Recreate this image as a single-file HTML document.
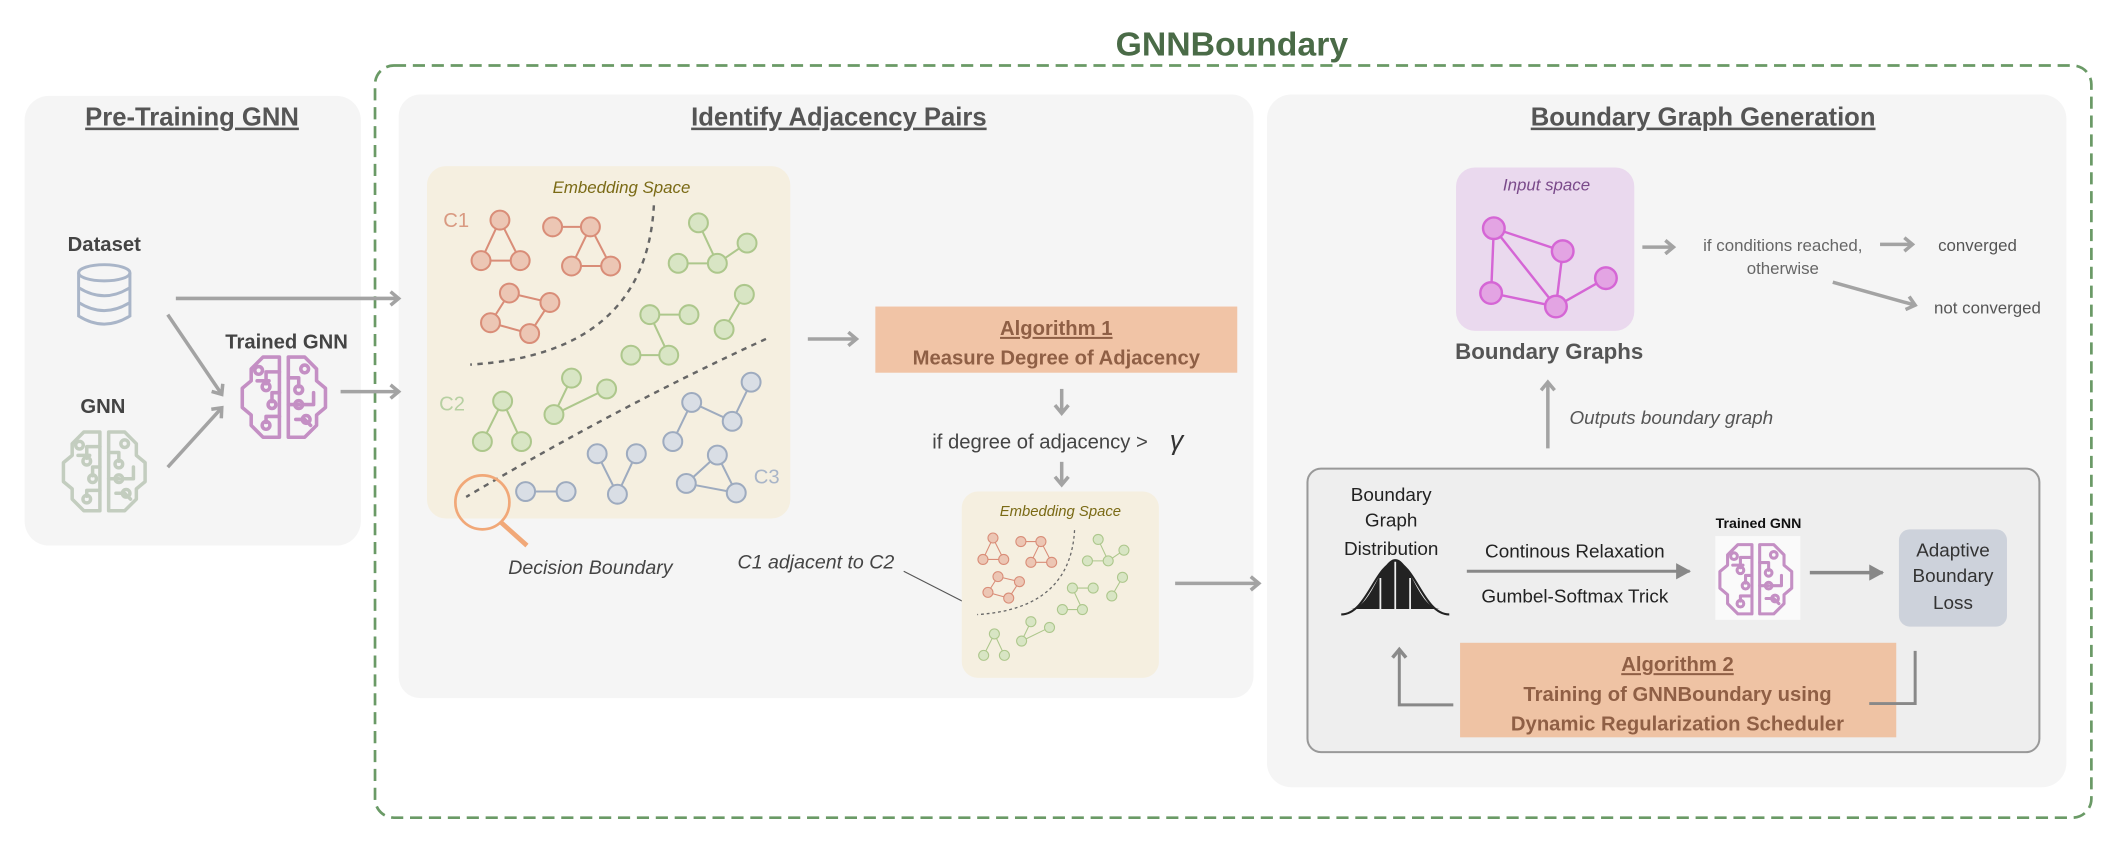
<!DOCTYPE html>
<html><head><meta charset="utf-8"><style>
html,body{margin:0;padding:0;background:#fff;}
svg{display:block;}
text{font-family:"Liberation Sans",sans-serif;}
</style></head><body>
<svg width="2118" height="844" viewBox="0 0 1568 625" xmlns="http://www.w3.org/2000/svg">
<defs>
<marker id="ah" markerWidth="10" markerHeight="12" refX="7" refY="6" orient="auto" markerUnits="userSpaceOnUse">
<path d="M1,1 L7,6 L1,11" fill="none" stroke="#a3a3a3" stroke-width="2.6"/>
</marker>
<marker id="ahd" markerWidth="10" markerHeight="12" refX="7" refY="6" orient="auto" markerUnits="userSpaceOnUse">
<path d="M1,1 L7,6 L1,11" fill="none" stroke="#8a8a8a" stroke-width="2.6"/>
</marker>
<marker id="tri" markerWidth="12" markerHeight="12" refX="10" refY="6" orient="auto" markerUnits="userSpaceOnUse">
<path d="M0,0 L11,6 L0,12 Z" fill="#888"/>
</marker>
<clipPath id="smallclip"><rect x="712" y="364" width="146" height="138" rx="12"/></clipPath>
<g id="brain" fill="none" stroke-width="2.4" stroke-linejoin="round" stroke-linecap="round">
<path d="M-3,-26 L-14,-26 L-22,-18 L-22,-10 L-28,-5 L-28,8 L-22,13 L-22,20 L-14,28 L-3,28 Z"/>
<path d="M3,-26 L14,-26 L22,-18 L22,-10 L28,-5 L28,8 L22,13 L22,20 L14,28 L3,28 Z"/>
<path d="M-3,-16 L-12,-16 L-12,-8 M-3,-2 L-8,-2 L-8,4 M-3,14 L-12,14 L-12,18 M-10,-10 L-18,-10"/>
<path d="M3,-12 L10,-12 L10,-6 M3,6 L10,6 M12,6 L20,6 L20,-2 M8,16 L14,16 L18,20"/>
<circle cx="-12" cy="-6" r="2.6"/><circle cx="-8" cy="6" r="2.6"/><circle cx="-12" cy="20" r="2.6"/>
<circle cx="-17" cy="-17" r="2.6"/><circle cx="14" cy="-18" r="2.6"/><circle cx="10" cy="-4" r="2.6"/>
<circle cx="10" cy="6" r="2.6"/><circle cx="15" cy="16" r="2.6"/>
</g>
<g id="redg" fill="#ecc6b4" stroke="#d98d78" stroke-width="1.5">
<path d="M370,163 L356,193 L385,193 Z M409,168 L437,168 L423,197 L452,197 L437,168 M377,217 L407,224 L392,247 L363,239 Z" fill="none"/>
<circle cx="370" cy="163" r="7"/><circle cx="356" cy="193" r="7"/><circle cx="385" cy="193" r="7"/>
<circle cx="409" cy="168" r="7"/><circle cx="437" cy="168" r="7"/><circle cx="423" cy="197" r="7"/><circle cx="452" cy="197" r="7"/>
<circle cx="377" cy="217" r="7"/><circle cx="407" cy="224" r="7"/><circle cx="363" cy="239" r="7"/><circle cx="392" cy="247" r="7"/>
</g>
<g id="greeng" fill="#d8e5c4" stroke="#adc78c" stroke-width="1.5">
<path d="M517,165 L531,195 L502,195 M531,195 L553,180 M481,233 L510,233 M481,233 L495,263 L467,263 M551,218 L536,244 M357,327 L372,297 L386,327 M423,280 L410,307 L449,288" fill="none"/>
<circle cx="517" cy="165" r="7"/><circle cx="531" cy="195" r="7"/><circle cx="502" cy="195" r="7"/><circle cx="553" cy="180" r="7"/>
<circle cx="481" cy="233" r="7"/><circle cx="510" cy="233" r="7"/><circle cx="495" cy="263" r="7"/><circle cx="467" cy="263" r="7"/>
<circle cx="551" cy="218" r="7"/><circle cx="536" cy="244" r="7"/>
<circle cx="372" cy="297" r="7"/><circle cx="357" cy="327" r="7"/><circle cx="386" cy="327" r="7"/>
<circle cx="423" cy="280" r="7"/><circle cx="410" cy="307" r="7"/><circle cx="449" cy="288" r="7"/>
</g>
<path id="curve1" d="M484,152 Q478,262 348,270" fill="none" stroke="#666" stroke-width="1.8" stroke-dasharray="4,4"/>
</defs>

<text x="912" y="41" font-size="25" font-weight="bold" fill="#4a6b47" text-anchor="middle">GNNBoundary</text>
<rect x="277.5" y="48.5" width="1271" height="557" rx="14" fill="none" stroke="#6a9a66" stroke-width="2" stroke-dasharray="9,5"/>

<rect x="18" y="71" width="249" height="333" rx="18" fill="#f5f5f5"/>
<rect x="295" y="70" width="633" height="447" rx="16" fill="#f5f5f5"/>
<rect x="938" y="70" width="592" height="513" rx="18" fill="#f5f5f5"/>

<text x="142" y="93" font-size="19" font-weight="bold" fill="#555" text-anchor="middle" text-decoration="underline">Pre-Training GNN</text>
<text x="621" y="93" font-size="19" font-weight="bold" fill="#555" text-anchor="middle" text-decoration="underline">Identify Adjacency Pairs</text>
<text x="1261" y="93" font-size="19" font-weight="bold" fill="#555" text-anchor="middle" text-decoration="underline">Boundary Graph Generation</text>

<text x="77" y="186" font-size="15" font-weight="bold" fill="#444" text-anchor="middle">Dataset</text>
<g fill="none" stroke="#a9b5c8" stroke-width="2.2">
<ellipse cx="77" cy="202" rx="19" ry="6"/>
<path d="M58,202 L58,234 Q77,246 96,234 L96,202 M58,213 Q77,225 96,213 M58,224 Q77,236 96,224"/>
</g>
<text x="76" y="306" font-size="15" font-weight="bold" fill="#444" text-anchor="middle">GNN</text>
<use href="#brain" transform="translate(77,348) scale(1.08)" stroke="#c3cdbf"/>
<text x="212" y="258" font-size="15" font-weight="bold" fill="#444" text-anchor="middle">Trained GNN</text>
<use href="#brain" transform="translate(210,293) scale(1.1)" stroke="#c48fc4"/>
<g stroke="#a3a3a3" stroke-width="2.6" fill="none">
<line x1="130" y1="221" x2="295" y2="221" marker-end="url(#ah)"/>
<line x1="124" y1="233" x2="164" y2="292" marker-end="url(#ah)"/>
<line x1="124" y1="346" x2="164" y2="302" marker-end="url(#ah)"/>
<line x1="252" y1="290" x2="295" y2="290" marker-end="url(#ah)"/>
</g>

<rect x="316" y="123" width="269" height="261" rx="14" fill="#f5efe0"/>
<text x="460" y="143" font-size="12.5" font-style="italic" fill="#7a6a15" text-anchor="middle">Embedding Space</text>
<text x="328" y="168" font-size="15" fill="#d99a82">C1</text>
<text x="325" y="304" font-size="15" fill="#b7d0a2">C2</text>
<text x="558" y="358" font-size="15" fill="#a9b5c8">C3</text>
<use href="#curve1"/>
<path d="M567,251 Q460,300 345,368" fill="none" stroke="#666" stroke-width="1.8" stroke-dasharray="4,4"/>
<use href="#redg"/>
<use href="#greeng"/>
<g fill="#d9dee5" stroke="#9eabbf" stroke-width="1.5">
<path d="M556,283 L542,312 L512,298 L498,327 M442,336 L457,366 L471,336 M389,364 L419,364 M531,337 L508,358 L545,365 Z" fill="none"/>
<circle cx="512" cy="298" r="7"/><circle cx="542" cy="312" r="7"/><circle cx="498" cy="327" r="7"/><circle cx="556" cy="283" r="7"/>
<circle cx="442" cy="336" r="7"/><circle cx="471" cy="336" r="7"/><circle cx="457" cy="366" r="7"/>
<circle cx="389" cy="364" r="7"/><circle cx="419" cy="364" r="7"/>
<circle cx="531" cy="337" r="7"/><circle cx="508" cy="358" r="7"/><circle cx="545" cy="365" r="7"/>
</g>
<circle cx="357" cy="372" r="20" fill="none" stroke="#f1a878" stroke-width="2"/>
<line x1="371" y1="387" x2="390" y2="404" stroke="#f1a878" stroke-width="3.5"/>
<text x="437" y="425" font-size="14.5" font-style="italic" fill="#444" text-anchor="middle">Decision Boundary</text>
<text x="604" y="421" font-size="14.5" font-style="italic" fill="#444" text-anchor="middle">C1 adjacent to C2</text>
<line x1="669" y1="423" x2="718" y2="448" stroke="#555" stroke-width="0.8"/>

<line x1="598" y1="251" x2="634" y2="251" stroke="#a3a3a3" stroke-width="2.6" marker-end="url(#ah)"/>
<rect x="648" y="227" width="268" height="49" fill="#f1c4a6"/>
<text x="782" y="248" font-size="15" font-weight="bold" fill="#8f5f45" text-anchor="middle" text-decoration="underline">Algorithm 1</text>
<text x="782" y="270" font-size="15" font-weight="bold" fill="#8f5f45" text-anchor="middle">Measure Degree of Adjacency</text>
<line x1="786" y1="288" x2="786" y2="306" stroke="#a3a3a3" stroke-width="2.6" marker-end="url(#ah)"/>
<text x="770" y="332" font-size="15" fill="#444" text-anchor="middle">if degree of adjacency &gt;</text>
<text x="866" y="333" font-size="20" font-style="italic" fill="#333" font-family="Liberation Serif, serif">γ</text>
<line x1="786" y1="342" x2="786" y2="359" stroke="#a3a3a3" stroke-width="2.6" marker-end="url(#ah)"/>

<rect x="712" y="364" width="146" height="138" rx="12" fill="#f5efe0"/>
<text x="785" y="382" font-size="11" font-style="italic" fill="#7a6a15" text-anchor="middle">Embedding Space</text>
<g clip-path="url(#smallclip)">
<g transform="translate(539,312) scale(0.53)">
<use href="#redg"/><use href="#greeng"/><use href="#curve1"/>
</g>
</g>
<line x1="870" y1="432" x2="932" y2="432" stroke="#a3a3a3" stroke-width="2.6" marker-end="url(#ah)"/>

<rect x="1078" y="124" width="132" height="121" rx="14" fill="#ead9ee"/>
<text x="1145" y="141" font-size="12.5" font-style="italic" fill="#7a4a8a" text-anchor="middle">Input space</text>
<g fill="#e3a4e3" stroke="#d566d5" stroke-width="1.8">
<path d="M1106,169 L1157,186 L1152,227 L1104,217 L1106,169 L1152,227 L1189,206" fill="none"/>
<circle cx="1106" cy="169" r="8"/><circle cx="1157" cy="186" r="8"/><circle cx="1104" cy="217" r="8"/><circle cx="1152" cy="227" r="8"/><circle cx="1189" cy="206" r="8"/>
</g>
<text x="1147" y="266" font-size="16.5" font-weight="bold" fill="#555" text-anchor="middle">Boundary Graphs</text>
<line x1="1216" y1="183" x2="1239" y2="183" stroke="#a3a3a3" stroke-width="2.6" marker-end="url(#ah)"/>
<text x="1320" y="186" font-size="12.5" fill="#666" text-anchor="middle">if conditions reached,</text>
<text x="1320" y="203" font-size="12.5" fill="#666" text-anchor="middle">otherwise</text>
<line x1="1392" y1="181" x2="1416" y2="181" stroke="#a3a3a3" stroke-width="2.6" marker-end="url(#ah)"/>
<text x="1435" y="186" font-size="12.5" fill="#555">converged</text>
<line x1="1357" y1="209" x2="1418" y2="226" stroke="#a3a3a3" stroke-width="2.6" marker-end="url(#ah)"/>
<text x="1432" y="232" font-size="12.5" fill="#555">not converged</text>

<line x1="1146" y1="332" x2="1146" y2="283" stroke="#a3a3a3" stroke-width="2.6" marker-end="url(#ah)"/>
<text x="1162" y="314" font-size="14" font-style="italic" fill="#555">Outputs boundary graph</text>

<rect x="968" y="347" width="542" height="210" rx="10" fill="#eeeeee" stroke="#999" stroke-width="1.5"/>
<g font-size="14" fill="#222" text-anchor="middle">
<text x="1030" y="371">Boundary</text>
<text x="1030" y="390">Graph</text>
<text x="1030" y="411">Distribution</text>
</g>
<path d="M1000,451 C1016,450 1022,414 1033,414 C1044,414 1050,450 1066,451 Z" fill="#222"/>
<path d="M993,455 C1012,455 1018,418 1033,416 C1048,418 1054,455 1073,455" fill="none" stroke="#222" stroke-width="1.6"/>
<path d="M1022,428 L1022,452 M1033,416 L1033,452 M1044,428 L1044,452" stroke="#eee" stroke-width="1.3"/>
<text x="1166" y="413" font-size="14" fill="#222" text-anchor="middle">Continous Relaxation</text>
<line x1="1086" y1="423" x2="1251" y2="423" stroke="#888" stroke-width="2.2" marker-end="url(#tri)"/>
<text x="1166" y="446" font-size="14" fill="#222" text-anchor="middle">Gumbel-Softmax Trick</text>
<text x="1302" y="391" font-size="10.5" font-weight="bold" fill="#111" text-anchor="middle">Trained GNN</text>
<rect x="1270" y="397" width="63" height="62" fill="#fafafa"/>
<use href="#brain" transform="translate(1300,428) scale(0.95)" stroke="#c48fc4"/>
<line x1="1340" y1="424" x2="1394" y2="424" stroke="#888" stroke-width="2.6" marker-end="url(#tri)"/>
<rect x="1406" y="392" width="80" height="72" rx="8" fill="#cdd2db"/>
<g font-size="14" fill="#333" text-anchor="middle">
<text x="1446" y="412">Adaptive</text>
<text x="1446" y="431">Boundary</text>
<text x="1446" y="451">Loss</text>
</g>
<rect x="1081" y="476" width="323" height="70" fill="#efc3a4"/>
<text x="1242" y="497" font-size="15" font-weight="bold" fill="#8f5f45" text-anchor="middle" text-decoration="underline">Algorithm 2</text>
<text x="1242" y="519" font-size="15" font-weight="bold" fill="#8f5f45" text-anchor="middle">Training of GNNBoundary using</text>
<text x="1242" y="541" font-size="15" font-weight="bold" fill="#8f5f45" text-anchor="middle">Dynamic Regularization Scheduler</text>
<path d="M1076,522 L1036,522 L1036,481" fill="none" stroke="#888" stroke-width="2.2" marker-end="url(#ahd)"/>
<path d="M1418,482 L1418,521 L1384,521" fill="none" stroke="#888" stroke-width="2.2"/>
</svg>
</body></html>
